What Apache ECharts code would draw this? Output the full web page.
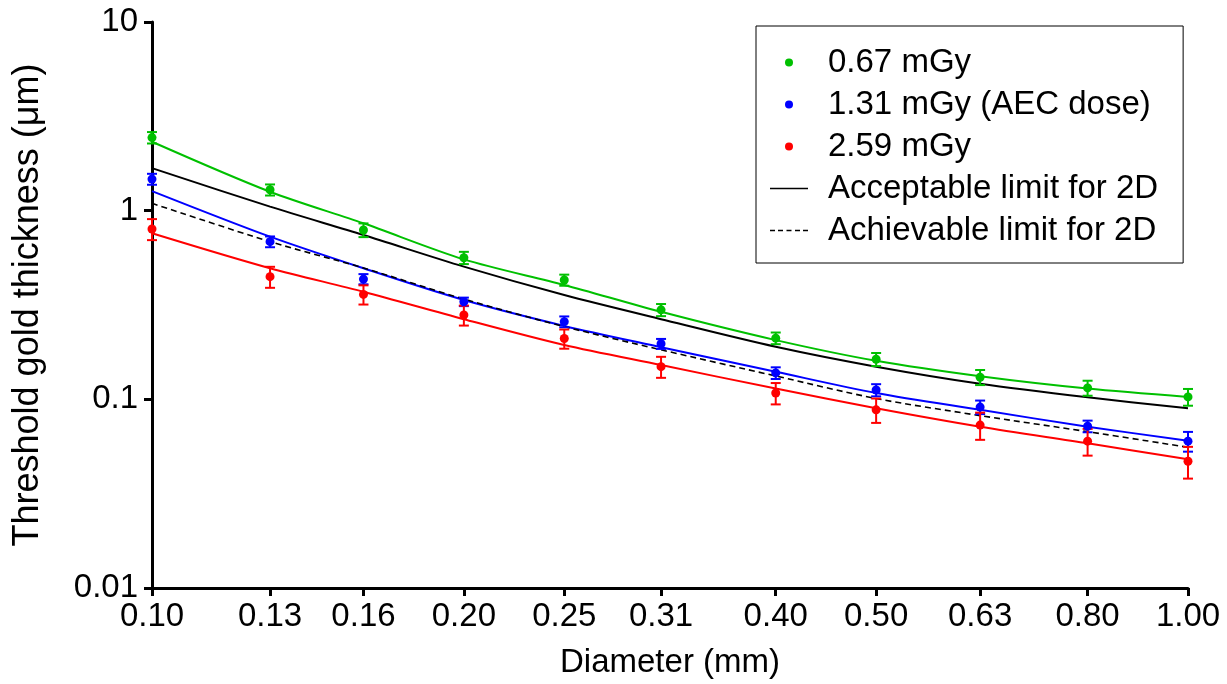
<!DOCTYPE html>
<html>
<head>
<meta charset="utf-8">
<script src="https://cdn.jsdelivr.net/npm/echarts@6/dist/echarts.min.js"></script>
<style>
html,body{margin:0;padding:0;background:#fff;}
#chart{width:1227px;height:684px;}
</style>
</head>
<body>
<div id="chart"></div>
<script>
// ---- data ----
const diameters = [0.10, 0.13, 0.16, 0.20, 0.25, 0.31, 0.40, 0.50, 0.63, 0.80, 1.00];
const yTicks = [0.01, 0.1, 1, 10];

const dose067 = [2.44, 1.29, 0.79, 0.563, 0.429, 0.298, 0.211, 0.163, 0.131, 0.115, 0.103];
const dose067Err = [0.17, 0.087, 0.066, 0.042, 0.029, 0.022, 0.015, 0.013, 0.012, 0.0105, 0.0105];
const dose131 = [1.47, 0.685, 0.434, 0.329, 0.258, 0.197, 0.138, 0.112, 0.091, 0.072, 0.060];
const dose131Err = [0.098, 0.045, 0.027, 0.017, 0.017, 0.012, 0.0098, 0.0083, 0.0075, 0.0051, 0.0072];
const dose259 = [0.80, 0.447, 0.360, 0.280, 0.210, 0.149, 0.108, 0.088, 0.073, 0.060, 0.047];
const dose259Err = [0.102, 0.057, 0.042, 0.034, 0.0245, 0.019, 0.014, 0.013, 0.012, 0.0097, 0.009];

const fit067 = [2.32, 1.26, 0.857, 0.552, 0.404, 0.291, 0.206, 0.160, 0.1325, 0.114, 0.103];
const fit131 = [1.27, 0.728, 0.495, 0.336, 0.245, 0.189, 0.140, 0.108, 0.088, 0.0716, 0.0604];
const fit259 = [0.759, 0.495, 0.372, 0.266, 0.194, 0.152, 0.114, 0.0897, 0.0716, 0.0585, 0.0481];
const acceptable2D = [1.68, 1.05, 0.743, 0.505, 0.357, 0.266, 0.190, 0.149, 0.121, 0.1025, 0.0897];
const achievable2D = [1.094, 0.685, 0.497, 0.340, 0.243, 0.183, 0.133, 0.101, 0.082, 0.0674, 0.0557];

const seriesNames = ['0.67 mGy', '1.31 mGy (AEC dose)', '2.59 mGy', 'Acceptable limit for 2D', 'Achievable limit for 2D'];
const colors = { green: '#00C000', blue: '#0000FF', red: '#FF0000', black: '#000000' };

// ---- build ----
const FONT = 'Liberation Sans, Arial, Helvetica, sans-serif';
const xLog = diameters.map(d => Math.log10(d));
const pts = vals => vals.map((v, i) => [xLog[i], v]);
const errPts = (vals, errs) => vals.map((v, i) => [xLog[i], v, errs[i]]);

function errorBar(color) {
  return function (params, api) {
    const x = api.value(0), y = api.value(1), e = api.value(2);
    const top = api.coord([x, y + e]);
    const bot = api.coord([x, Math.max(y - e, 1e-6)]);
    const hw = 5;
    const st = { stroke: color, lineWidth: 2 };
    return {
      type: 'group',
      children: [
        { type: 'line', shape: { x1: top[0], y1: top[1], x2: bot[0], y2: bot[1] }, style: st },
        { type: 'line', shape: { x1: top[0] - hw, y1: top[1], x2: top[0] + hw, y2: top[1] }, style: st },
        { type: 'line', shape: { x1: bot[0] - hw, y1: bot[1], x2: bot[0] + hw, y2: bot[1] }, style: st }
      ]
    };
  };
}

function fitLine(name, data, color, dashed, width) {
  return {
    name: name, type: 'line', data: pts(data), showSymbol: false, symbol: 'none',
    smooth: 0.3, z: 2, silent: true,
    lineStyle: { color: color, width: width, type: dashed ? [6, 4] : 'solid' },
    itemStyle: { color: color }
  };
}
function scatter(name, data, color) {
  return {
    name: name, type: 'scatter', data: pts(data), symbol: 'circle', symbolSize: 9, z: 5,
    itemStyle: { color: color, opacity: 1 }
  };
}
function errSeries(vals, errs, color) {
  return {
    type: 'custom', data: errPts(vals, errs), renderItem: errorBar(color), z: 4, silent: true,
    encode: { x: 0, y: 1 }
  };
}

const solidIcon = 'path://M0,0H38V1.6H0Z';
const dashedIcon = 'path://M0,0H5V1.3H0Z M8,0H13V1.3H8Z M16.5,0H21.5V1.3H16.5Z M25,0H30V1.3H25Z M33,0H38V1.3H33Z';

const chart = echarts.init(document.getElementById('chart'), null, { renderer: 'canvas' });
chart.setOption({
  animation: false,
  backgroundColor: '#fff',
  textStyle: { fontFamily: FONT },
  grid: { left: 152, right: 39, top: 22, bottom: 96, containLabel: false },
  legend: {
    data: [
      { name: seriesNames[0], icon: 'circle' },
      { name: seriesNames[1], icon: 'circle' },
      { name: seriesNames[2], icon: 'circle' },
      { name: seriesNames[3], icon: solidIcon, itemStyle: { color: '#000' } },
      { name: seriesNames[4], icon: dashedIcon, itemStyle: { color: '#000' } }
    ],
    orient: 'vertical',
    left: 756, top: 26,
    padding: [20, 25, 16, 14],
    itemWidth: 38, itemHeight: 8, itemGap: 9,
    symbolKeepAspect: true,
    borderColor: '#000', borderWidth: 1,
    backgroundColor: '#fff',
    selectedMode: false,
    textStyle: { fontSize: 33, color: '#000', fontFamily: FONT, lineHeight: 33, padding: [0, 0, 0, 15] }
  },
  xAxis: {
    type: 'value', min: -1, max: 0,
    name: 'Diameter (mm)', nameLocation: 'middle', nameGap: 58,
    nameTextStyle: { fontSize: 33, color: '#000', fontFamily: FONT },
    axisLine: { show: true, onZero: false, lineStyle: { color: '#000', width: 3 } },
    axisTick: { show: true, length: 8, lineStyle: { color: '#000', width: 3 }, customValues: xLog },
    axisLabel: {
      fontSize: 33, color: '#000', margin: 12, fontFamily: FONT,
      customValues: xLog,
      formatter: v => Math.pow(10, v).toFixed(2)
    },
    splitLine: { show: false }
  },
  yAxis: {
    type: 'log', logBase: 10, min: 0.01, max: 10,
    name: 'Threshold gold thickness (μm)', nameLocation: 'middle', nameGap: 106,
    nameTextStyle: { fontSize: 36, color: '#000', fontFamily: FONT, padding: [0, 0, 0, 0] },
    axisLine: { show: true, onZero: false, lineStyle: { color: '#000', width: 3 } },
    axisTick: { show: true, length: 8, lineStyle: { color: '#000', width: 3 } },
    axisLabel: {
      fontSize: 33, color: '#000', margin: 14, fontFamily: FONT,
      formatter: v => { const t = yTicks.find(k => Math.abs(k - v) / k < 1e-6); return t !== undefined ? String(t) : ''; }
    },
    minorTick: { show: false },
    splitLine: { show: false }
  },
  series: [
    fitLine('fit 0.67', fit067, colors.green, false, 2),
    fitLine('fit 1.31', fit131, colors.blue, false, 2),
    fitLine('fit 2.59', fit259, colors.red, false, 2),
    fitLine(seriesNames[3], acceptable2D, colors.black, false, 2),
    fitLine(seriesNames[4], achievable2D, colors.black, true, 1.6),
    errSeries(dose067, dose067Err, colors.green),
    errSeries(dose131, dose131Err, colors.blue),
    errSeries(dose259, dose259Err, colors.red),
    scatter(seriesNames[0], dose067, colors.green),
    scatter(seriesNames[1], dose131, colors.blue),
    scatter(seriesNames[2], dose259, colors.red)
  ]
});
</script>
</body>
</html>
